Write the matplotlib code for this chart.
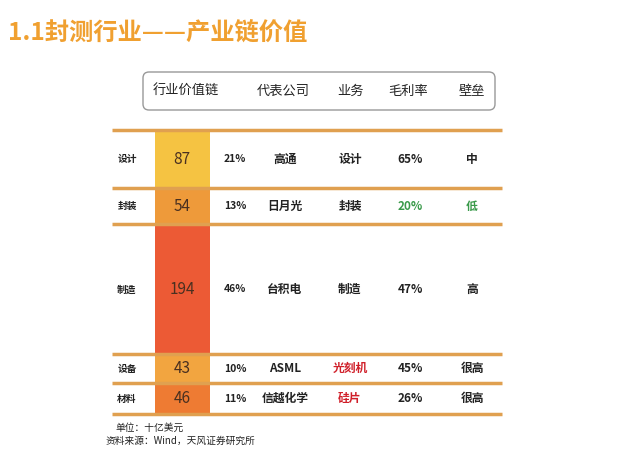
import matplotlib.pyplot as plt
from matplotlib.patches import FancyBboxPatch

plt.rcParams['font.family'] = ['Noto Sans CJK SC', 'DejaVu Sans']

segments = ['设计', '封装', '制造', '设备', '材料']
values = [87, 54, 194, 43, 46]
shares = ['21%', '13%', '46%', '10%', '11%']
companies = ['高通', '日月光', '台积电', 'ASML', '信越化学']
business = ['设计', '封装', '制造', '光刻机', '硅片']
margins = ['65%', '20%', '47%', '45%', '26%']
barriers = ['中', '低', '高', '很高', '很高']
headers = ['行业价值链', '代表公司', '业务', '毛利率', '壁垒']

bar_colors = ['#F5C342', '#EE9A3A', '#EC5A35', '#F2A540', '#EE7B33']
dark = '#222222'
green = '#3A9A4A'
red = '#D0202A'
biz_colors = [dark, dark, dark, red, red]
margin_colors = [dark, green, dark, dark, dark]
barrier_colors = [dark, green, dark, dark, dark]

fig = plt.figure(figsize=(6.4, 4.68), dpi=100)
ax = fig.add_axes([0, 0, 1, 1])
ax.set_xlim(0, 640)
ax.set_ylim(468, 0)
ax.axis('off')

ax.text(8, 33, '1.1封测行业——产业链价值', fontsize=17.5, fontweight='bold',
        color='#F0A030', va='center', ha='left')

box = FancyBboxPatch((143, 72), 352, 38, boxstyle='round,pad=0,rounding_size=6',
                     fc='white', ec='#999999', lw=1)
ax.add_patch(box)
for x, h in zip([186, 283, 350, 408, 472], headers):
    ax.text(x, 91, h, ha='center', va='center', fontsize=9.5,
            fontweight='medium', color=dark)

# stacked bar: pixel scale so the total spans 130..414
top, bottom = 130, 414
scale = (bottom - top) / sum(values)
y = top
bounds = [top]
for v, c in zip(values, bar_colors):
    h = v * scale
    ax.bar(182, h, width=55, bottom=y, color=c, edgecolor='none', zorder=2)
    bounds.append(y + h)
    y += h

for b in bounds:
    ax.plot([112, 502], [b, b], color='#E0A050', lw=2.5, zorder=3,
            solid_capstyle='butt')

for i in range(len(values)):
    yc = (bounds[i] + bounds[i + 1]) / 2
    ax.text(127, yc, segments[i], ha='center', va='center', fontsize=7,
            fontweight='bold', color=dark)
    ax.text(182, yc, str(values[i]), ha='center', va='center', fontsize=11, color='#4a3020')
    ax.text(235, yc, shares[i], ha='center', va='center', fontsize=7.5,
            fontweight='bold', color=dark)
    ax.text(285, yc, companies[i], ha='center', va='center', fontsize=8.5,
            fontweight='bold', color=dark)
    ax.text(350, yc, business[i], ha='center', va='center', fontsize=8.5,
            fontweight='bold', color=biz_colors[i])
    ax.text(410, yc, margins[i], ha='center', va='center', fontsize=8.5,
            fontweight='bold', color=margin_colors[i])
    ax.text(472, yc, barriers[i], ha='center', va='center', fontsize=8.5,
            fontweight='bold', color=barrier_colors[i])

ax.text(115, 428, '单位：十亿美元', fontsize=7, style='italic', color=dark, va='center')
ax.text(106, 441, '资料来源：Wind，天风证券研究所', fontsize=7, style='italic',
        color=dark, va='center')

fig.savefig('out.png', dpi=100)
